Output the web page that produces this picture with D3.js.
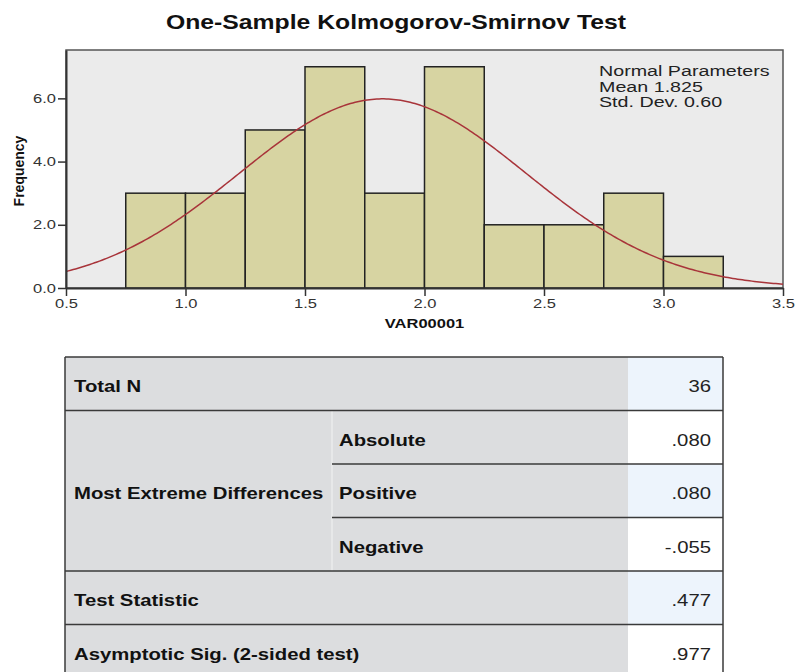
<!DOCTYPE html>
<html>
<head>
<meta charset="utf-8">
<script src="https://cdn.jsdelivr.net/npm/d3@7"></script>
<style>
  body { margin: 0; background: #fff; }
  svg { display: block; font-family: "Liberation Sans", Arial, sans-serif; }
</style>
</head>
<body>
<div id="chart"></div>
<script>
// histogram data
var binLower = [0.75, 1.0, 1.25, 1.5, 1.75, 2.0, 2.25, 2.5, 2.75, 3.0];
var binCounts = [3, 3, 5, 7, 3, 7, 2, 2, 3, 1];
var binWidth = 0.25;
var xTicks = [0.5, 1.0, 1.5, 2.0, 2.5, 3.0, 3.5];
var yTicks = [0, 2, 4, 6];
var normalMean = 1.825;
var normalSD = 0.60;
var totalN = 36;
var legendLines = ["Normal Parameters", "Mean 1.825", "Std. Dev. 0.60"];

// table data
var rowLabels = ["Total N", "Most Extreme Differences", "Test Statistic", "Asymptotic Sig. (2-sided test)"];
var subLabels = ["Absolute", "Positive", "Negative"];
var statValues = ["36", ".080", ".080", "-.055", ".477", ".977"];

var W = 795, H = 672;
var SX = 1.27; // the source picture is stretched sideways

var svg = d3.select("#chart").append("svg")
  .attr("width", W)
  .attr("height", H);

function putText(sel, x, y) {
  return sel.attr("transform", "translate(" + x + "," + y + ") scale(" + SX + ",1)");
}

// ---------- histogram ----------
var plot = { left: 66, right: 783, top: 50, bottom: 288 };

var x = d3.scaleLinear().domain([0.5, 3.5]).range([plot.left, plot.right]);
var y = d3.scaleLinear().domain([0, 7.53]).range([plot.bottom, plot.top]);

putText(svg.append("text"), 396, 29)
  .attr("text-anchor", "middle")
  .attr("font-size", 19.5)
  .attr("font-weight", "bold")
  .attr("fill", "#111")
  .text("One-Sample Kolmogorov-Smirnov Test");

svg.append("rect")
  .attr("x", plot.left)
  .attr("y", plot.top)
  .attr("width", plot.right - plot.left)
  .attr("height", plot.bottom - plot.top)
  .attr("fill", "#ebebeb")
  .attr("stroke", "#555")
  .attr("stroke-width", 1.5);

svg.append("clipPath").attr("id", "plot-clip")
  .append("rect")
  .attr("x", plot.left)
  .attr("y", plot.top)
  .attr("width", plot.right - plot.left)
  .attr("height", plot.bottom - plot.top);

svg.append("g").selectAll("rect")
  .data(binLower)
  .enter()
  .append("rect")
  .attr("x", function (d) { return x(d); })
  .attr("y", function (d, i) { return y(binCounts[i]); })
  .attr("width", function (d) { return x(d + binWidth) - x(d); })
  .attr("height", function (d, i) { return y(0) - y(binCounts[i]); })
  .attr("fill", "#d7d4a2")
  .attr("stroke", "#222")
  .attr("stroke-width", 1.5);

// normal curve from the stated parameters
var curvePts = d3.range(0.5, 3.5001, 0.01).map(function (v) {
  var z = (v - normalMean) / normalSD;
  var dens = Math.exp(-0.5 * z * z) / (normalSD * Math.sqrt(2 * Math.PI));
  return [v, totalN * binWidth * dens];
});

svg.append("path")
  .datum(curvePts)
  .attr("clip-path", "url(#plot-clip)")
  .attr("fill", "none")
  .attr("stroke", "#a8343a")
  .attr("stroke-width", 1.5)
  .attr("d", d3.line()
    .x(function (d) { return x(d[0]); })
    .y(function (d) { return y(d[1]); }));

// axes
var xAxis = svg.append("g")
  .attr("transform", "translate(0," + plot.bottom + ")")
  .call(d3.axisBottom(x).tickValues(xTicks).tickFormat(d3.format(".1f"))
    .tickSize(8).tickSizeOuter(0).tickPadding(3));
var yAxis = svg.append("g")
  .attr("transform", "translate(" + plot.left + ",0)")
  .call(d3.axisLeft(y).tickValues(yTicks).tickFormat(d3.format(".1f"))
    .tickSize(8).tickSizeOuter(0).tickPadding(2));

[xAxis, yAxis].forEach(function (ax) {
  ax.select(".domain").attr("stroke", "#333").attr("stroke-width", 2);
  ax.selectAll(".tick line").attr("stroke", "#333").attr("stroke-width", 1.5);
  ax.selectAll(".tick text")
    .attr("font-size", 13)
    .attr("font-family", "Liberation Sans, Arial, sans-serif")
    .attr("fill", "#333")
    .attr("transform", "scale(" + SX + ",1)");
});
// keep scaled labels in place
xAxis.selectAll(".tick text").attr("x", 0);
yAxis.selectAll(".tick text").attr("x", -10 / SX);

putText(svg.append("text"), (plot.left + plot.right) / 2, 328)
  .attr("text-anchor", "middle")
  .attr("font-size", 13)
  .attr("font-weight", "bold")
  .attr("fill", "#111")
  .text("VAR00001");

svg.append("text")
  .attr("transform", "translate(24,171) rotate(-90)")
  .attr("text-anchor", "middle")
  .attr("font-size", 14)
  .attr("font-weight", "bold")
  .attr("fill", "#111")
  .text("Frequency");

svg.append("g").selectAll("text")
  .data(legendLines)
  .enter()
  .append("text")
  .attr("transform", function (d, i) {
    return "translate(599," + (76 + i * 15.6) + ") scale(1.33,1)";
  })
  .attr("font-size", 14.8)
  .attr("fill", "#222")
  .text(function (d) { return d; });

// ---------- table ----------
var tab = { left: 65, split: 332, valLeft: 628, right: 723, top: 357, rowH: 53.5 };
var rowY = function (i) { return tab.top + i * tab.rowH; };
var nRows = statValues.length;

var tg = svg.append("g");

tg.append("rect")
  .attr("x", tab.left).attr("y", tab.top)
  .attr("width", tab.valLeft - tab.left)
  .attr("height", rowY(nRows) - tab.top)
  .attr("fill", "#dcdddf");

tg.selectAll("rect.val")
  .data(statValues)
  .enter()
  .append("rect")
  .attr("class", "val")
  .attr("x", tab.valLeft)
  .attr("y", function (d, i) { return rowY(i); })
  .attr("width", tab.right - tab.valLeft)
  .attr("height", tab.rowH)
  .attr("fill", function (d, i) { return i % 2 === 0 ? "#edf4fc" : "#ffffff"; });

// light divider between the merged cell and sub labels
tg.append("line")
  .attr("x1", tab.split).attr("x2", tab.split)
  .attr("y1", rowY(1)).attr("y2", rowY(4))
  .attr("stroke", "#ebebec")
  .attr("stroke-width", 1.5);

// horizontal rules
var rules = [
  { i: 0, x1: tab.left }, { i: 1, x1: tab.left }, { i: 2, x1: tab.split },
  { i: 3, x1: tab.split }, { i: 4, x1: tab.left }, { i: 5, x1: tab.left }
];
tg.selectAll("line.rule")
  .data(rules)
  .enter()
  .append("line")
  .attr("class", "rule")
  .attr("x1", function (d) { return d.x1; })
  .attr("x2", tab.right)
  .attr("y1", function (d) { return rowY(d.i); })
  .attr("y2", function (d) { return rowY(d.i); })
  .attr("stroke", "#3a3a3a")
  .attr("stroke-width", 1.5);

[tab.left, tab.right].forEach(function (xx) {
  tg.append("line")
    .attr("x1", xx).attr("x2", xx)
    .attr("y1", tab.top).attr("y2", rowY(nRows))
    .attr("stroke", "#3a3a3a")
    .attr("stroke-width", 1.5);
});

// row label positions (row index of the label's baseline cell)
var labelRow = [0, 2, 4, 5];
tg.selectAll("text.rowlab")
  .data(rowLabels)
  .enter()
  .append("text")
  .attr("class", "rowlab")
  .attr("transform", function (d, i) {
    return "translate(74," + (rowY(labelRow[i]) + 35) + ") scale(" + SX + ",1)";
  })
  .attr("font-size", 16)
  .attr("font-weight", "bold")
  .attr("fill", "#111")
  .text(function (d) { return d; });

tg.selectAll("text.sublab")
  .data(subLabels)
  .enter()
  .append("text")
  .attr("class", "sublab")
  .attr("transform", function (d, i) {
    return "translate(339," + (rowY(i + 1) + 35) + ") scale(" + SX + ",1)";
  })
  .attr("font-size", 16)
  .attr("font-weight", "bold")
  .attr("fill", "#111")
  .text(function (d) { return d; });

tg.selectAll("text.valtxt")
  .data(statValues)
  .enter()
  .append("text")
  .attr("class", "valtxt")
  .attr("transform", function (d, i) {
    return "translate(711," + (rowY(i) + 35) + ") scale(" + SX + ",1)";
  })
  .attr("text-anchor", "end")
  .attr("font-size", 16)
  .attr("fill", "#222")
  .text(function (d) { return d; });
</script>
</body>
</html>
